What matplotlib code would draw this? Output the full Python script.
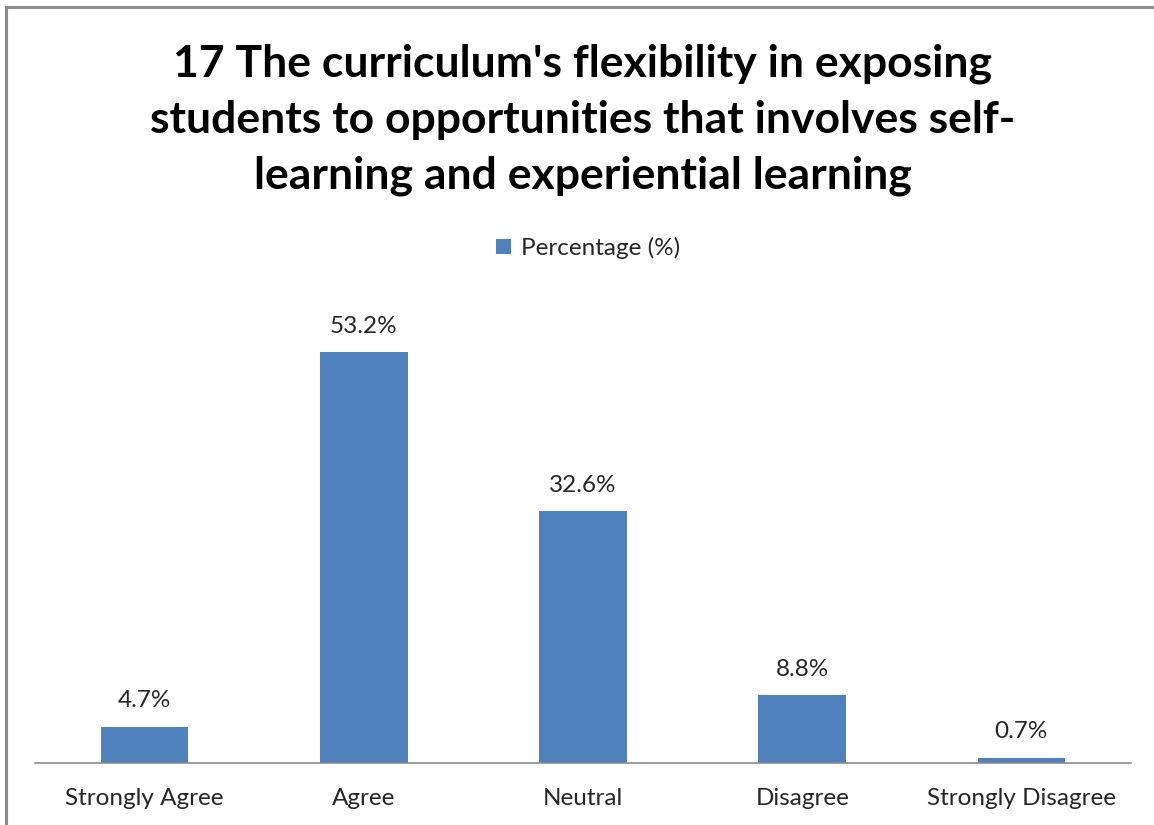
import matplotlib
matplotlib.use("Agg")
import matplotlib.pyplot as plt
from matplotlib.patches import Rectangle

categories = ["Strongly Agree", "Agree", "Neutral", "Disagree", "Strongly Disagree"]
percentages = [4.7, 53.2, 32.6, 8.8, 0.7]
series_name = "Percentage (%)"
title = ("17 The curriculum's flexibility in exposing\n"
         "students to opportunities that involves self-\n"
         "learning and experiential learning")

bar_color = "#4F81BD"
W, H = 1154, 825

plt.rcParams['font.family'] = ['Lato', 'DejaVu Sans']

fig = plt.figure(figsize=(W / 100, H / 100), dpi=100)
fig.patch.set_facecolor("white")

# outer chart frame (only left and top edges are inside the picture)
fig.add_artist(Rectangle((6 / W, -0.1), 1.2, 1 - 7 / H + 0.1,
                         transform=fig.transFigure, fill=False,
                         edgecolor="#8c8c8c", linewidth=2.2))

ax = fig.add_axes([35 / W, (H - 763) / H, (1131 - 35) / W, (763 - 300) / H])
x = range(len(categories))
bars = ax.bar(x, percentages, width=0.4, color=bar_color, label=series_name)
ax.set_xlim(-0.5, len(categories) - 0.5)
ax.set_ylim(0, 60)

for b, v in zip(bars, percentages):
    ax.annotate(f"{v}%", (b.get_x() + b.get_width() / 2, b.get_height()),
                xytext=(0, 11), textcoords="offset points",
                ha="center", va="bottom", fontsize=17.5, color="#262626")

for s in ["top", "right", "left"]:
    ax.spines[s].set_visible(False)
ax.spines["bottom"].set_color("#8c8c8c")
ax.spines["bottom"].set_linewidth(1.2)
ax.set_yticks([])
ax.set_xticks(list(x))
ax.set_xticklabels(categories, fontsize=17.5, color="#262626")
ax.tick_params(axis="x", length=0, pad=18)

fig.text(0.505, 1 - 120 / H, title, ha="center", va="center",
         fontsize=32, fontweight="bold", linespacing=1.48, color="black")

fig.legend(handles=[bars], labels=[series_name], loc="center",
           bbox_to_anchor=(588 / W, 1 - 248 / H), frameon=False,
           fontsize=17.5, handlelength=0.6, handleheight=0.6,
           handletextpad=0.4, labelcolor="#262626")

fig.savefig("out.png", dpi=100)
